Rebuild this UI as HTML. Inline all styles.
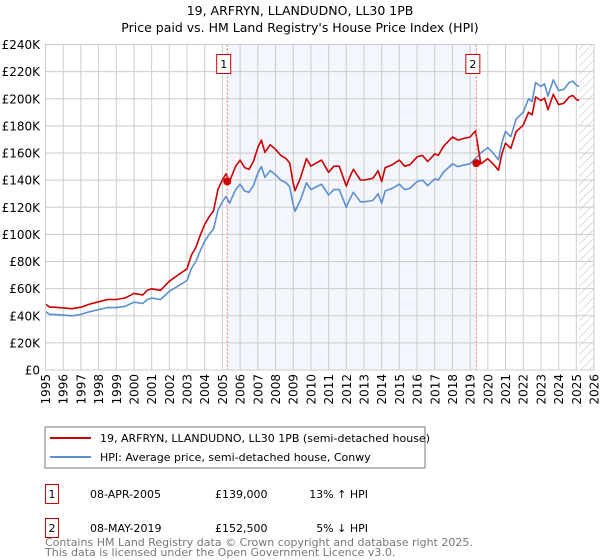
<!DOCTYPE html>
<html><head><meta charset="utf-8"><style>
body{margin:0;background:#fff;font-family:"Liberation Sans","DejaVu Sans",sans-serif;}
#wrap{position:relative;width:600px;height:560px;overflow:hidden;}
</style></head><body>
<div id="wrap">
<svg id="chart" width="600" height="560" xmlns="http://www.w3.org/2000/svg" font-family="DejaVu Sans, Liberation Sans, sans-serif">
<defs><pattern id="hatch" width="6" height="6" patternUnits="userSpaceOnUse" patternTransform="rotate(45)"><line x1="0" y1="0" x2="0" y2="6" stroke="#bbb" stroke-width="1"/></pattern></defs>
<text x="300" y="15" text-anchor="middle" font-size="12.5">19, ARFRYN, LLANDUDNO, LL30 1PB</text>
<text x="300" y="32" text-anchor="middle" font-size="12.5">Price paid vs. HM Land Registry's House Price Index (HPI)</text>
<g id="plot"></g>
<rect x="45" y="427" width="380" height="41" fill="#fff" stroke="#777" stroke-width="1"/>
<line x1="50" y1="438" x2="91" y2="438" stroke="#cc0000" stroke-width="2"/>
<text x="100" y="442" font-size="11">19, ARFRYN, LLANDUDNO, LL30 1PB (semi-detached house)</text>
<line x1="50" y1="457" x2="91" y2="457" stroke="#5b8fd0" stroke-width="2"/>
<text x="100" y="461" font-size="11">HPI: Average price, semi-detached house, Conwy</text>
<g>
<rect x="45.5" y="484.5" width="13" height="19" fill="none" stroke="#cc0000"/>
<text x="52" y="498" font-size="11" text-anchor="middle">1</text>
<text x="90" y="498" font-size="11">08-APR-2005</text>
<text x="215" y="498" font-size="11">£139,000</text>
<text x="368" y="498" font-size="11" text-anchor="end">13% ↑ HPI</text></g>
<g>
<rect x="45.5" y="518.5" width="13" height="19" fill="none" stroke="#cc0000"/>
<text x="52" y="532" font-size="11" text-anchor="middle">2</text>
<text x="90" y="532" font-size="11">08-MAY-2019</text>
<text x="215" y="532" font-size="11">£152,500</text>
<text x="368" y="532" font-size="11" text-anchor="end">5% ↓ HPI</text></g>
<text x="45" y="546" font-size="11" fill="#777">Contains HM Land Registry data © Crown copyright and database right 2025.</text>
<text x="45" y="556" font-size="11" fill="#777">This data is licensed under the Open Government Licence v3.0.</text>
</svg>
</div>
<script>
const dates=[1995,1995.25,1995.5,1996,1996.5,1997,1997.5,1998,1998.5,1999,1999.5,2000,2000.5,2000.75,2001,2001.5,2002,2002.5,2003,2003.25,2003.5,2003.75,2004,2004.25,2004.5,2004.75,2005,2005.2,2005.4,2005.75,2006,2006.25,2006.5,2006.75,2007,2007.2,2007.4,2007.7,2008,2008.3,2008.6,2008.8,2009,2009.1,2009.4,2009.75,2010,2010.3,2010.6,2011,2011.3,2011.6,2012,2012.2,2012.4,2012.8,2013,2013.5,2013.8,2014,2014.2,2014.6,2015,2015.3,2015.6,2016,2016.3,2016.6,2017,2017.2,2017.5,2018,2018.3,2018.6,2019,2019.3,2019.6,2020,2020.3,2020.6,2020.8,2021,2021.3,2021.6,2022,2022.3,2022.5,2022.7,2023,2023.2,2023.4,2023.7,2024,2024.3,2024.6,2024.8,2025,2025.15];
const hpi=[43,41,41,40.5,40,41,43,44.5,46,46,47,50,49,52,53,52,58,62,66,75,80,88,95,100,104,118,124,128,123,133,137,132,131,136,145,150,142,147,144,140,138,135,122,117,125,138,133,135,137,129,133,133,120,126,131,124,124,125,130,123,132,134,137,133,134,139,140,136,141,140,146,152,150,151,152,156,160,164,160,155,168,176,172,185,190,200,198,212,209,211,202,214,206,207,212,213,210,209];
const price=[48.6,46.3,46.3,45.8,45.2,46.3,48.6,50.3,52,52,53.1,56.5,55.4,58.8,59.9,58.8,65.5,70.1,74.6,84.8,90.4,99.4,107.4,113,117.5,133.3,140.1,144.6,139,150.3,154.8,149.2,148,153.7,163.9,169.5,160.5,166.1,162.7,158.2,155.9,152.6,137.9,132.2,141.3,155.9,150.3,152.6,154.8,145.8,150.3,150.3,135.6,142.4,148,140.1,140.1,141.3,146.9,139,149.2,151.4,154.8,150.3,151.4,157.1,158.2,153.7,159.3,158.2,165,171.8,169.5,170.6,171.8,176.3,152,155.8,152,147.3,159.6,167.2,163.4,175.8,180.5,190,188.1,201.4,198.6,200.5,191.9,203.3,195.7,196.7,201.4,202.4,199.5,198.6];
const saleDates=[2005.27,2019.35];
const salePrices=[139,152.5];
const saleLabels=["1","2"];
const yTicks=[0,20,40,60,80,100,120,140,160,180,200,220,240];
const xTicks=[1995,1996,1997,1998,1999,2000,2001,2002,2003,2004,2005,2006,2007,2008,2009,2010,2011,2012,2013,2014,2015,2016,2017,2018,2019,2020,2021,2022,2023,2024,2025,2026];
const NS="http://www.w3.org/2000/svg";
const L=45.5,R=594,T=44.5,B=370;
const X=t=>L+(t-1995)/31*(R-L);
const Y=v=>B-v/240*(B-T);
const g=document.getElementById('plot');
function mk(tag,a){const e=document.createElementNS(NS,tag);for(const k in a)e.setAttribute(k,a[k]);g.appendChild(e);return e;}
let e=mk('rect',{x:X(saleDates[0]),y:T,width:X(saleDates[1])-X(saleDates[0]),height:B-T,fill:'#f3f6fd'});


e=mk('rect',{x:X(2025.15),y:T,width:R-X(2025.15),height:B-T,fill:'url(#hatch)'});


yTicks.forEach(v=>{
 e=mk('line',{x1:L,x2:R,y1:Y(v),y2:Y(v),stroke:'#ccc','stroke-width':1});
 
 
 e=mk('text',{x:40,y:Y(v)+4.5,'text-anchor':'end','font-size':12});
 e.textContent=v===0?'£0':'£'+v+'K';
 
 
});
xTicks.forEach(t=>{
 e=mk('line',{x1:X(t),x2:X(t),y1:T,y2:B,stroke:'#ccc','stroke-width':1});
 
 
 e=mk('text',{x:X(t)+4.5,y:B+4,'text-anchor':'end','font-size':12,transform:`rotate(-90 ${X(t)+4.5} ${B+4})`});
 e.textContent=t;
 
 
});
function path(vals,col,name){
 const d=vals.map((v,i)=>(i?'L':'M')+X(dates[i]).toFixed(1)+' '+Y(v).toFixed(1)).join(' ');
 const p=mk('path',{d:d,fill:'none',stroke:col,'stroke-width':1.6,'stroke-linejoin':'round'});
 
 
}
path(hpi,'#5b8fd0','hpi-line');
path(price,'#cc0000','property-price-line');
saleDates.forEach((t,i)=>{
 e=mk('line',{x1:X(t),x2:X(t),y1:T,y2:B,stroke:'#f07070','stroke-width':1,'stroke-dasharray':'2,2'});
 
 
 e=mk('circle',{cx:X(t),cy:Y(salePrices[i]),r:4,fill:'#cc0000'});
 
 
 e=mk('rect',{x:X(t)-10.5,y:54.5,width:14,height:19,fill:'#fff',stroke:'#cc0000'});
 
 
 e=mk('text',{x:X(t)-3.5,y:68,'text-anchor':'middle','font-size':11});
 e.textContent=saleLabels[i];
 
 
});
e=mk('rect',{x:L,y:T,width:R-L,height:B-T,fill:'none',stroke:'#ccc'});


</script>
</body></html>
